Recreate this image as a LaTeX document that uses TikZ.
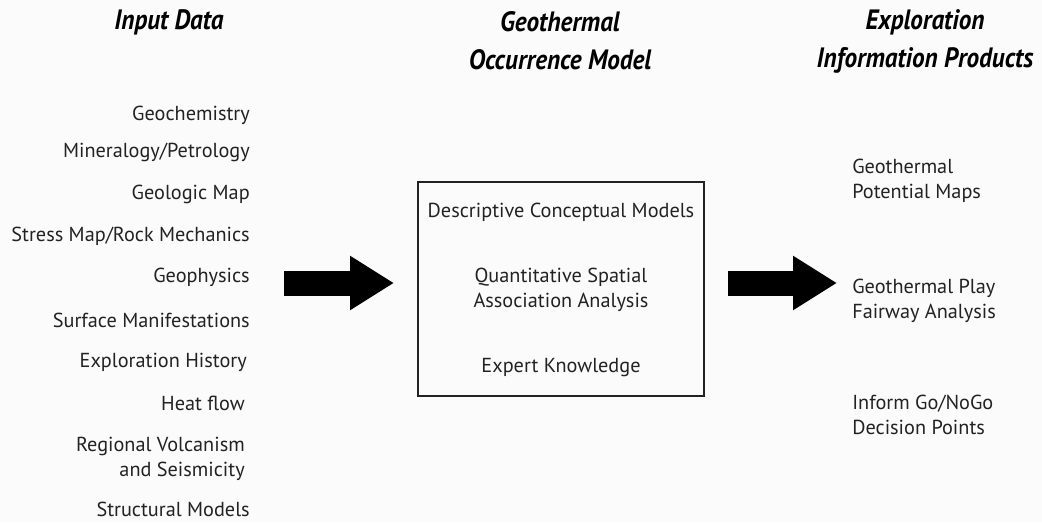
\documentclass[tikz,border=0pt]{standalone}
\usepackage{fontspec}
\setmainfont{PT Sans}
\newfontfamily\headfont[FakeStretch=0.9]{PT Sans}
\usetikzlibrary{arrows.meta}
\definecolor{inkgray}{HTML}{222222}
\definecolor{paper}{HTML}{FBFBFB}
\tikzset{
    head/.style = {font=\headfont\fontsize{21}{28.5}\selectfont\bfseries\itshape,
                   align=center, inner sep=0pt},
    item/.style = {font=\fontsize{15.2}{18.75}\selectfont, text=inkgray, inner sep=0pt},
    bigarrow/.style = {line width=18.75pt,
                       -{Triangle[length=33pt, width=38.5pt]}},
}

\begin{document}
\begin{tikzpicture}[x=0.75pt, y=-0.75pt]
    \fill[paper] (0,0) rectangle (1042,522);

    % column headings
    \node[head] (hin)  at (169,22) {Input Data};
    \node[head] (hmod) at (560,41) {Geothermal\\Occurrence Model};
    \node[head] (hout) at (925,41) {Exploration\\Information Products};

    % input data list
    \foreach \Name/\X/\Y/\Text in {%
        chem/250/115/Geochemistry,
        mine/250/152/{Mineralogy/Petrology},
        gmap/250/194/Geologic Map,
        strs/250/236/{Stress Map/Rock Mechanics},
        gphy/250/277/Geophysics,
        surf/250/320/Surface Manifestations,
        hist/247/362/Exploration History,
        heat/245/403/Heat flow,
        volc/245/459/{Regional Volcanism\\and Seismicity},
        strc/250/509/Structural Models%
        }
        \node[item, anchor=east, align=right] (\Name) at (\X,\Y) {\Text};

    % occurrence model box
    \draw[inkgray, line width=1.1pt] (418,182) rectangle (704,396);
    \node[item, align=center] (desc) at (561,212) {Descriptive Conceptual Models};
    \node[item, align=center] (quan) at (561,290) {Quantitative Spatial\\Association Analysis};
    \node[item, align=center] (expk) at (561,368) {Expert Knowledge};

    % information products
    \foreach \Name/\Y/\Text in {%
        pmap/181/{Geothermal\\Potential Maps},
        fair/301/{Geothermal Play\\Fairway Analysis},
        gono/415/{Inform Go/NoGo\\Decision Points}%
        }
        \node[item, anchor=west, align=left] (\Name) at (852,\Y) {\Text};

    % block arrows
    \coordinate (ina)  at (284,283);
    \coordinate (inb)  at (394,283);
    \coordinate (outa) at (728,283);
    \coordinate (outb) at (837,283);
    \draw[bigarrow] (ina) -- (inb);
    \draw[bigarrow] (outa) -- (outb);
\end{tikzpicture}
\end{document}
